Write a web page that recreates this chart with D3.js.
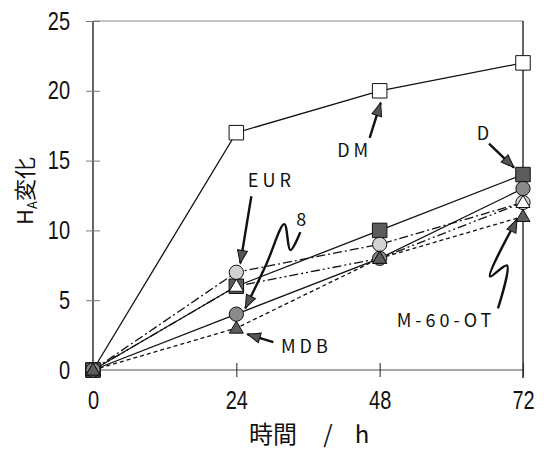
<!DOCTYPE html>
<html>
<head>
<meta charset="utf-8">
<script src="https://cdn.jsdelivr.net/npm/d3@7/dist/d3.min.js"></script>
<style>
  html, body { margin: 0; padding: 0; background: #fff; }
  svg { display: block; }
</style>
</head>
<body>
<svg id="chart" width="544" height="450"></svg>
<script>
// Elapsed time (h) and H_A change for each sample
const hours   = [0, 24, 48, 72];
const xTicks  = [0, 24, 48, 72];
const yTicks  = [0, 5, 10, 15, 20, 25];
const valsDM  = [0, 17, 20, 22];
const valsD   = [0, 6, 10, 14];
const valsEUR = [0, 7, 9, 12];
const vals8   = [0, 4, 8, 13];
const valsMDB = [0, 3, 8, 11];
const valsM60 = [0, 6, 8, 12];

const series = [
  { name: "DM",      values: valsDM,  shape: "square",   fill: "#ffffff", dash: null },
  { name: "D",       values: valsD,   shape: "square",   fill: "#5c5c5c", dash: null },
  { name: "EUR",     values: valsEUR, shape: "circle",   fill: "#d2d2d2", dash: "9,3,2,3" },
  { name: "8",       values: vals8,   shape: "circle",   fill: "#8a8a8a", dash: null },
  { name: "M-60-OT", values: valsM60, shape: "triangle", fill: "#ffffff", dash: "9,3,2,3,2,3" },
  { name: "MDB",     values: valsMDB, shape: "triangle", fill: "#5c5c5c", dash: "4,3" }
];

const svg = d3.select("#chart");
const x = d3.scaleLinear().domain([0, 72]).range([93, 523]);
const y = d3.scaleLinear().domain([0, 25]).range([370, 21]);

const tickFont = "'Liberation Sans', Arial, sans-serif";
const squeeze = 0.8;   // narrow the tick digits horizontally

// Frame: top and bottom in grey, left and right in black
svg.append("line").attr("x1", x(0)).attr("x2", x(72)).attr("y1", y(25)).attr("y2", y(25))
  .attr("stroke", "#8a8a8a").attr("stroke-width", 1.2);
svg.append("line").attr("x1", x(0)).attr("x2", x(72)).attr("y1", y(0)).attr("y2", y(0))
  .attr("stroke", "#8a8a8a").attr("stroke-width", 1.4);
svg.append("line").attr("x1", x(72)).attr("x2", x(72)).attr("y1", y(25)).attr("y2", y(0) + 8)
  .attr("stroke", "#111").attr("stroke-width", 1.3);

// Y axis
const yAxis = svg.append("g").attr("transform", `translate(${x(0)},0)`)
  .call(d3.axisLeft(y).tickValues(yTicks).tickSize(7).tickPadding(16));
yAxis.select(".domain").attr("stroke", "#111").attr("stroke-width", 1.3)
  .attr("d", `M0,${y(25)}V${y(0)}`);
yAxis.selectAll(".tick line").attr("x1", 7).attr("x2", -7).attr("stroke", "#777");
yAxis.selectAll(".tick text").attr("font-family", tickFont).attr("font-size", 25)
  .attr("fill", "#111")
  .attr("x", -23 / squeeze).attr("transform", `scale(${squeeze},1)`);

// X axis
const xAxis = svg.append("g").attr("transform", `translate(0,${y(0)})`)
  .call(d3.axisBottom(x).tickValues(xTicks).tickSize(7).tickPadding(14));
xAxis.select(".domain").remove();
xAxis.selectAll(".tick line").attr("y1", -7).attr("y2", 7).attr("stroke", "#333")
  .attr("stroke-width", 1.1);
xAxis.selectAll(".tick text").attr("font-family", tickFont).attr("font-size", 25)
  .attr("fill", "#111").attr("transform", `scale(${squeeze},1)`);

// Axis titles
const jpFont = "'Noto Sans CJK JP', 'Noto Sans', sans-serif";
const yt = svg.append("text")
  .attr("transform", `translate(33,191) rotate(-90)`)
  .attr("text-anchor", "middle").attr("font-family", jpFont).attr("font-size", 22)
  .attr("fill", "#111");
yt.append("tspan").text("H");
yt.append("tspan").attr("font-size", 13).attr("dy", 4).text("A");
yt.append("tspan").attr("dy", -4).text("変化");

const xTitle = [["時間", 273], ["/", 328], ["h", 362]];
xTitle.forEach(([t, cx]) => {
  svg.append("text").attr("x", cx).attr("y", 443).attr("text-anchor", "middle")
    .attr("font-family", jpFont).attr("font-size", 24).attr("fill", "#111").text(t);
});

// Lines
const line = d3.line().x((d, i) => x(hours[i])).y(d => y(d));
const plot = svg.append("g");
series.forEach(s => {
  plot.append("path").datum(s.values)
    .attr("d", line).attr("fill", "none").attr("stroke", "#111")
    .attr("stroke-width", 1.3)
    .attr("stroke-dasharray", s.dash);
});

// Markers
const sym = {
  square: d3.symbol(d3.symbolSquare, 210),
  circle: d3.symbol(d3.symbolCircle, 160),
  triangle: d3.symbol(d3.symbolTriangle, 85)
};
series.forEach(s => {
  plot.selectAll(null).data(s.values).enter().append("path")
    .attr("d", sym[s.shape])
    .attr("transform", (d, i) => `translate(${x(hours[i])},${y(d) + (s.shape === "triangle" ? 1 : 0)})`)
    .attr("fill", s.fill).attr("stroke", "#111").attr("stroke-width", 1);
});

// Callouts, anchored on a data point with pixel offsets
const notes = [
  { text: "DM",      at: [48, valsDM[2]],  tx: -25, ty: 66,  path: [[-10, 47], [1, 12]] },
  { text: "D",       at: [72, valsD[3]],   tx: -40, ty: -35, path: [[-34, -31], [-9, -7]] },
  { text: "EUR",     at: [24, valsEUR[1]], tx: 35,  ty: -85, path: [[15, -76], [4, -9]] },
  { text: "8",       at: [24, vals8[1]],   tx: 65,  ty: -88, path: [[64, -82], [54, -64], [48, -90], [30, -50], [9, -6]], curve: true },
  { text: "MDB",     at: [24, valsMDB[1]], tx: 70,  ty: 25,  path: [[37, 14], [11, 6]] },
  { text: "M-60-OT", at: [72, valsM60[3] - 1], tx: -77, ty: 111, path: [[-25, 92], [-16, 49], [-33, 60], [-6, 3]], curve: true }
];
const noteFont = "'Noto Sans CJK JP', 'DejaVu Sans', sans-serif";
const notesG = svg.append("g");
notes.forEach(n => {
  const ax = x(n.at[0]), ay = y(n.at[1]);
  const pts = n.path.map(p => [ax + p[0], ay + p[1]]);
  const gen = d3.line().curve(n.curve ? d3.curveCatmullRom.alpha(0.5) : d3.curveLinear);
  notesG.append("path").attr("d", gen(pts)).attr("fill", "none")
    .attr("stroke", "#111").attr("stroke-width", 2.4);
  // arrow head along the final segment
  const [px, py] = pts[pts.length - 2], [tx, ty] = pts[pts.length - 1];
  const ang = Math.atan2(ty - py, tx - px) * 180 / Math.PI;
  notesG.append("path").attr("d", "M0,0 L-13,-5 L-13,5 Z")
    .attr("transform", `translate(${tx},${ty}) rotate(${ang})`)
    .attr("fill", "#555").attr("stroke", "#111").attr("stroke-width", 1);
  notesG.append("text").attr("x", ax + n.tx).attr("y", ay + n.ty)
    .attr("text-anchor", "middle").attr("font-family", noteFont).attr("font-size", 18)
    .attr("letter-spacing", n.text.length > 1 ? 4 : 0)
    .attr("fill", "#111").text(n.text);
});
</script>
</body>
</html>
